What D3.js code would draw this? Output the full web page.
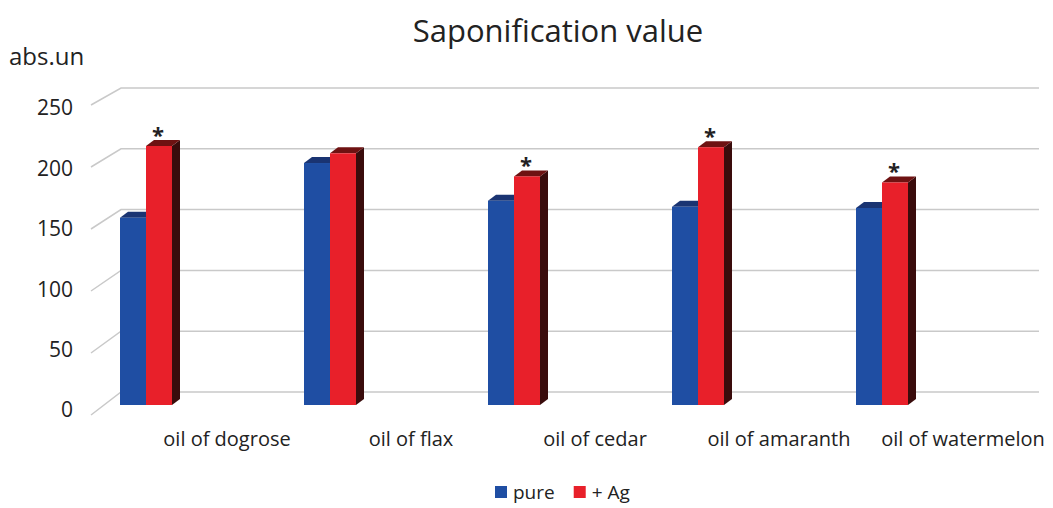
<!DOCTYPE html>
<html>
<head>
<meta charset="utf-8">
<script src="https://cdn.jsdelivr.net/npm/d3@7"></script>
<style>
  body { margin: 0; background: #fff; }
  svg text { font-family: "Open Sans", "Noto Sans", sans-serif; fill: #222; }
</style>
</head>
<body>
<svg id="chart" width="1053" height="508"></svg>
<script>
// 数据
const categories = ["oil of dogrose", "oil of flax", "oil of cedar", "oil of amaranth", "oil of watermelon"];
const seriesNames = ["pure", "+ Ag"];
const pureValues = [154, 199, 168, 163, 162];
const agValues = [213, 207, 188, 212, 183];
const significant = [true, false, true, true, true]; // 星号
const yTicks = [0, 50, 100, 150, 200, 250];

const colors = {
    "pure": { front: "#1f4ea3", top: "#1a3472", side: "#142a5c" },
    "+ Ag": { front: "#e8202a", top: "#6e1212", side: "#3a0c0c" }
};

const svg = d3.select("#chart");

// 3D 偏移
const depthX = 8, depthY = -6;

const xScale = d3.scaleBand().domain(categories).range([120, 1040]);
const xSub = d3.scaleBand().domain(seriesNames).range([0, 52]);
const yBack = d3.scaleLinear().domain([0, 250]).range([392, 88]);
const yFront = d3.scaleLinear().domain([0, 250]).range([415, 105]);
const yLabel = d3.scaleLinear().domain([0, 250]).range([410, 108]);
const yBar = d3.scaleLinear().domain([0, 250]).range([405, 101]);

// 网格线
const grid = svg.append("g");
yTicks.forEach(t => {
    grid.append("path")
        .attr("d", `M91,${yFront(t)}L121,${yBack(t)}L1039,${yBack(t)}`)
        .attr("fill", "none")
        .attr("stroke", "#c9c9c9")
        .attr("stroke-width", 1.5);
    grid.append("text")
        .attr("x", 73)
        .attr("y", yLabel(t))
        .attr("dy", "0.35em")
        .attr("text-anchor", "end")
        .style("font-size", "21px")
        .text(t);
});

// 柱子
const rows = categories.map((c, i) => ({ cat: c, values: [pureValues[i], agValues[i]], star: significant[i] }));

rows.forEach(row => {
    seriesNames.forEach((s, j) => {
        const v = row.values[j];
        const x0 = xScale(row.cat) + xSub(s);
        const w = xSub.bandwidth();
        const y0 = yBar(v);
        const yb = yBar(0);
        const g = svg.append("g");
        // 侧面
        g.append("path")
            .attr("d", `M${x0 + w},${y0}L${x0 + w + depthX},${y0 + depthY}L${x0 + w + depthX},${yb + depthY}L${x0 + w},${yb}Z`)
            .attr("fill", colors[s].side);
        // 顶面
        g.append("path")
            .attr("d", `M${x0},${y0}L${x0 + depthX},${y0 + depthY}L${x0 + w + depthX},${y0 + depthY}L${x0 + w},${y0}Z`)
            .attr("fill", colors[s].top);
        // 正面
        g.append("rect")
            .attr("x", x0)
            .attr("y", y0)
            .attr("width", w)
            .attr("height", yb - y0)
            .attr("fill", colors[s].front);
    });
    if (row.star) {
        const xs = xScale(row.cat) + xSub("+ Ag") + xSub.bandwidth() / 2 - 1;
        svg.append("text")
            .attr("x", xs)
            .attr("y", yBar(row.values[1]) - 3)
            .attr("text-anchor", "middle")
            .style("font-size", "22px")
            .style("font-weight", "bold")
            .text("*");
    }
});

// 类别标签
svg.append("g").selectAll("text")
    .data(categories)
    .enter().append("text")
    .attr("x", d => xScale(d) + xScale.bandwidth() / 2 + 15)
    .attr("y", 446)
    .attr("text-anchor", "middle")
    .style("font-size", "20px")
    .text(d => d);

// 标题
svg.append("text")
    .attr("x", 558)
    .attr("y", 42)
    .attr("text-anchor", "middle")
    .style("font-size", "31px")
    .text("Saponification value");

svg.append("text")
    .attr("x", 9)
    .attr("y", 65)
    .style("font-size", "24px")
    .text("abs.un");

// 图例
const legend = svg.append("g").attr("transform", "translate(495,492)");
let lx = 0;
seriesNames.forEach(s => {
    legend.append("rect")
        .attr("x", lx)
        .attr("y", -6)
        .attr("width", 12)
        .attr("height", 12)
        .attr("fill", colors[s].front);
    const t = legend.append("text")
        .attr("x", lx + 18)
        .attr("y", 0)
        .attr("dy", "0.35em")
        .style("font-size", "19px")
        .text(s);
    lx += 18 + t.node().getComputedTextLength() + 19;
});
</script>
</body>
</html>
